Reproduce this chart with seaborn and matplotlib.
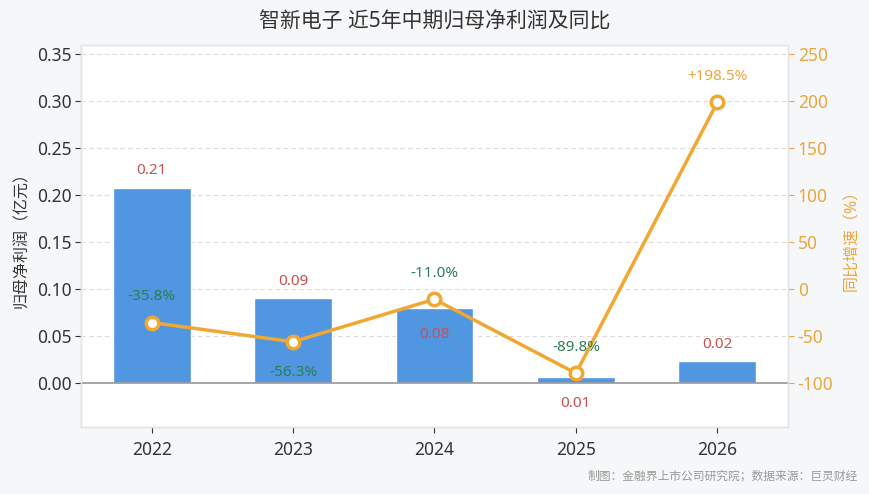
import matplotlib
matplotlib.use("Agg")
import matplotlib.pyplot as plt
import seaborn as sns
import numpy as np
import pandas as pd

# data
years = ["2022", "2023", "2024", "2025", "2026"]
profit = [0.208, 0.090, 0.080, 0.007, 0.023]          # 亿元
profit_labels = ["0.21", "0.09", "0.08", "0.01", "0.02"]
yoy = [-35.8, -56.3, -11.0, -89.8, 198.5]              # %
yoy_labels = ["-35.8%", "-56.3%", "-11.0%", "-89.8%", "+198.5%"]
profit_label_below = [False, False, True, True, False]
yoy_label_below = [False, True, False, False, False]

BAR_COLOR = "#5096e0"
LINE_COLOR = "#f0a832"
RED_TXT = "#c9504f"
GREEN_TXT = "#2e7d55"
ORANGE_TXT = "#eaa640"
BG = "#f6f7f9"

sns.set_theme(style="white")
plt.rcParams["font.family"] = ["Noto Sans", "Noto Sans CJK SC", "DejaVu Sans"]
plt.rcParams["axes.unicode_minus"] = False

df = pd.DataFrame({"year": years, "profit": profit, "yoy": yoy})

fig = plt.figure(figsize=(8.7, 4.94), dpi=100, facecolor=BG)
ax = fig.add_axes([81 / 870, 1 - 427 / 494, 707 / 870, 382 / 494])
ax.set_facecolor("white")

sns.barplot(data=df, x="year", y="profit", color=BAR_COLOR, width=0.55,
            saturation=1, ax=ax, zorder=2)
ax.set_xlim(-0.5, 4.5)
ax.set_ylim(-0.0467, 0.3596)
ax.set_yticks(np.arange(0, 0.351, 0.05))
ax.set_yticklabels([f"{v:.2f}" for v in np.arange(0, 0.351, 0.05)])
ax.yaxis.grid(True, linestyle=(0, (4, 3)), color="#dcdcdc", linewidth=0.8, zorder=0)
ax.axhline(0, color="#999999", linewidth=1.2, zorder=3)
ax.set_xlabel("")
ax.set_ylabel("归母净利润（亿元）", fontsize=11.5, color="#333333", labelpad=5)
ax.tick_params(axis="y", colors="#333333", labelsize=12.5, length=4, width=0.8,
               direction="out", left=True, pad=3)
ax.tick_params(axis="x", colors="#333333", labelsize=12.5, length=4, width=0.8,
               direction="out", bottom=True, pad=6)
for s in ax.spines.values():
    s.set_color("#e2e4e8")
    s.set_linewidth(1)

for i, (v, lab) in enumerate(zip(profit, profit_labels)):
    if profit_label_below[i]:
        ax.annotate(lab, (i, v), xytext=(0, -14), textcoords="offset points",
                    ha="center", va="top", color=RED_TXT, fontsize=11, zorder=6)
    else:
        ax.annotate(lab, (i, v), xytext=(0, 7), textcoords="offset points",
                    ha="center", va="bottom", color=RED_TXT, fontsize=11, zorder=6)

ax2 = ax.twinx()
ax2.set_ylim(-147, 259.6)
ax2.set_yticks(np.arange(-100, 251, 50))
sns.lineplot(x=np.arange(len(years)), y=yoy, ax=ax2, color=LINE_COLOR,
             linewidth=2.5, marker="o", markersize=9, markerfacecolor="white",
             markeredgecolor=LINE_COLOR, markeredgewidth=2.5, zorder=5)
ax2.tick_params(axis="y", colors=ORANGE_TXT, labelsize=12.5, length=4, width=0.8,
                direction="out", right=True, pad=3)
ax2.set_ylabel("同比增速（%）", fontsize=11.5, color=ORANGE_TXT, rotation=90, labelpad=8)
for s in ax2.spines.values():
    s.set_color("#e2e4e8")
    s.set_linewidth(1)

for i, (v, lab) in enumerate(zip(yoy, yoy_labels)):
    c = GREEN_TXT if v < 0 else ORANGE_TXT
    if yoy_label_below[i]:
        ax2.annotate(lab, (i, v), xytext=(0, -17), textcoords="offset points",
                     ha="center", va="top", color=c, fontsize=11, zorder=6)
    else:
        ax2.annotate(lab, (i, v), xytext=(0, 13), textcoords="offset points",
                     ha="center", va="bottom", color=c, fontsize=11, zorder=6)

fig.text(0.5, 1 - 22 / 494, "智新电子 近5年中期归母净利润及同比", ha="center",
         va="center", fontsize=15, color="#333333")
fig.text(858 / 870, 1 - 476 / 494, "制图：金融界上市公司研究院；数据来源：巨灵财经",
         ha="right", va="center", fontsize=8.5, color="#999999")

fig.savefig("out.png", dpi=100, facecolor=BG)
